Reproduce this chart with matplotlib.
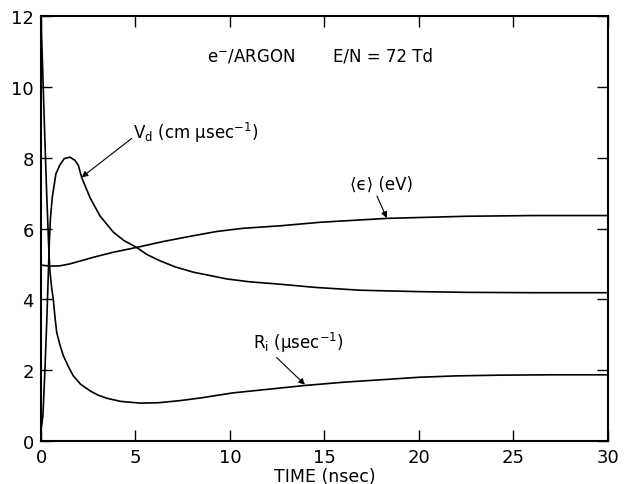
import matplotlib
matplotlib.use("Agg")
import matplotlib.pyplot as plt

plt.rcParams["font.family"] = ["DejaVu Sans"]
plt.rcParams["mathtext.fontset"] = "dejavusans"

# drift velocity V_d (cm/usec)
t_vd = [0, 0.1, 0.2, 0.3, 0.38, 0.44, 0.5, 0.6, 0.79, 1.0, 1.23, 1.53, 1.8,
        1.98, 2.15, 2.59, 3.12, 3.83, 4.4, 5.06, 5.6, 6.3, 7.1, 8.06, 9.82,
        11.0, 12.65, 14.5, 16.9, 20.0, 22.5, 26.0, 30.0]
vd = [0.3, 0.7, 1.9, 3.3, 4.6, 5.6, 6.3, 6.9, 7.55, 7.8, 7.98, 8.02, 7.93,
      7.78, 7.45, 6.88, 6.36, 5.9, 5.66, 5.47, 5.27, 5.09, 4.92, 4.77, 4.58,
      4.5, 4.43, 4.34, 4.26, 4.22, 4.2, 4.19, 4.19]

# mean energy <eps> (eV)
t_eps = [0, 0.5, 1.0, 1.5, 2.77, 3.8, 5.06, 6.5, 8.06, 9.3, 10.7, 12.65,
         14.77, 18.3, 22.5, 26.0, 30.0]
eps = [4.97, 4.94, 4.95, 5.0, 5.19, 5.33, 5.47, 5.64, 5.8, 5.92, 6.01,
       6.08, 6.18, 6.29, 6.35, 6.37, 6.37]

# ionization rate R_i (1/usec)
t_ri = [0, 0.1, 0.2, 0.3, 0.4, 0.47, 0.56, 0.65, 0.74, 0.83, 1.0, 1.18,
        1.45, 1.71, 2.1, 2.59, 3.0, 3.47, 4.2, 5.24, 6.2, 7.35, 8.5, 10.17,
        12.0, 14.0, 16.0, 18.0, 20.0, 22.0, 24.3, 27.0, 30.0]
ri = [12.0, 10.3, 8.6, 7.0, 5.6, 4.8, 4.35, 4.0, 3.5, 3.07, 2.72, 2.41,
      2.1, 1.84, 1.6, 1.42, 1.3, 1.21, 1.12, 1.07, 1.08, 1.14, 1.22, 1.36,
      1.46, 1.57, 1.66, 1.73, 1.80, 1.84, 1.86, 1.87, 1.87]

x_ticks = [0, 5, 10, 15, 20, 25, 30]
y_ticks = [0, 2, 4, 6, 8, 10, 12]

fig = plt.figure(figsize=(6.26, 4.85), dpi=100)
ax = fig.add_axes([0.0655, 0.0887, 0.9055, 0.8756])

lw = 1.2
ax.plot(t_vd, vd, color="black", lw=lw)
ax.plot(t_eps, eps, color="black", lw=lw)
ax.plot(t_ri, ri, color="black", lw=lw)

ax.set_xlim(0, 30)
ax.set_ylim(0, 12)
ax.set_xticks(x_ticks)
ax.set_yticks(y_ticks)
ax.tick_params(direction="in", length=8, width=1, labelsize=13,
               top=True, right=True, pad=5)
for s in ax.spines.values():
    s.set_linewidth(1.5)

ax.set_xlabel("TIME (nsec)", fontsize=12.5, labelpad=1)

fs = 12
ax.text(8.78, 10.88, "e$^{-}$/ARGON", fontsize=fs, ha="left", va="center")
ax.text(15.45, 10.88, "E/N = 72 Td", fontsize=fs, ha="left", va="center")

arrow = dict(arrowstyle="-|>", color="black", lw=0.8,
             mutation_scale=9, shrinkA=0, shrinkB=0)

ax.text(4.87, 8.73, r"V$_\mathregular{d}$ (cm µsec$^\mathregular{-1}$)",
        fontsize=fs, ha="left", va="center")
ax.annotate("", xy=(2.15, 7.45), xytext=(4.8, 8.55), arrowprops=arrow)

ax.text(16.35, 7.26, "\u27e8\u03f5\u27e9 (eV)", fontsize=fs,
        ha="left", va="center")
ax.annotate("", xy=(18.3, 6.3), xytext=(17.78, 6.92), arrowprops=arrow)

ax.text(11.2, 2.8, r"R$_\mathregular{i}$ (µsec$^\mathregular{-1}$)",
        fontsize=fs, ha="left", va="center")
ax.annotate("", xy=(13.97, 1.59), xytext=(12.47, 2.36), arrowprops=arrow)

fig.savefig("out.png", dpi=100)
